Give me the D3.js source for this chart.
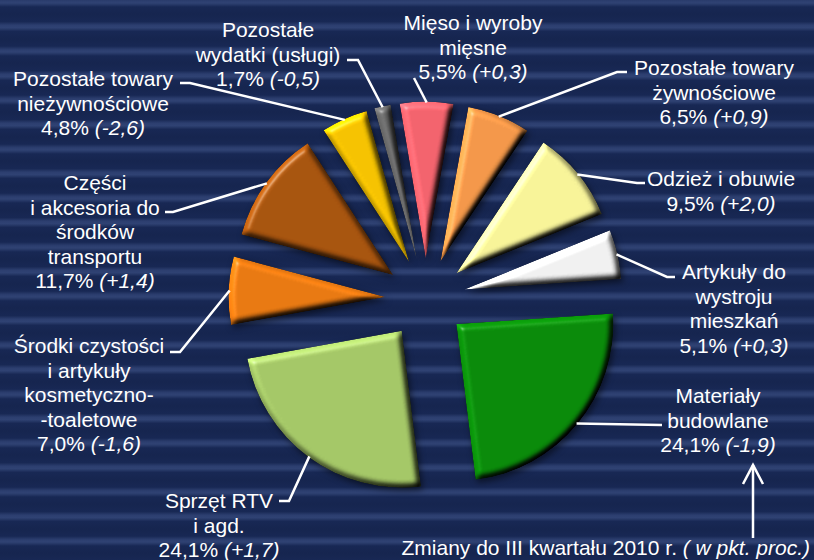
<!DOCTYPE html>
<html>
<head>
<meta charset="utf-8">
<script src="https://cdn.jsdelivr.net/npm/d3@7"></script>
<style>
  body { margin: 0; background: #172552; }
  svg { display: block; }
  text { font-family: "Liberation Sans", Arial, sans-serif; fill: #fff; }
</style>
</head>
<body>
<div id="app"></div>
<script>
// data: shares of retail sales (%), change vs Q3 2010 (pp)
let categories = ["Materiały budowlane", "Sprzęt RTV i agd.",
  "Środki czystości i artykuły kosmetyczno-toaletowe",
  "Części i akcesoria do środków transportu", "Pozostałe towary nieżywnościowe",
  "Pozostałe wydatki (usługi)", "Mięso i wyroby mięsne",
  "Pozostałe towary żywnościowe", "Odzież i obuwie", "Artykuły do wystroju mieszkań"]
let shares = [24.1, 24.1, 7.0, 11.7, 4.8, 1.7, 5.5, 6.5, 9.5, 5.1]
let changes = [-1.9, 1.7, -1.6, 1.4, -2.6, -0.5, 0.3, 0.9, 2.0, 0.3]
let labelLines = [
  ["Materiały", "budowlane"],
  ["Sprzęt RTV", "i agd."],
  ["Środki czystości", "i artykuły", "kosmetyczno-", "-toaletowe"],
  ["Części", "i akcesoria do", "środków", "transportu"],
  ["Pozostałe towary", "nieżywnościowe"],
  ["Pozostałe", "wydatki (usługi)"],
  ["Mięso i wyroby", "mięsne"],
  ["Pozostałe towary", "żywnościowe"],
  ["Odzież i obuwie"],
  ["Artykuły do", "wystroju", "mieszkań"]
]
let note = "Zmiany do III kwartału 2010 r. "
let noteUnit = "( w pkt. proc.)"

let colors = ["#0a8c0a", "#a6c968", "#ea7a12", "#a9550f", "#f7c400",
  "#6a6a6a", "#f4646e", "#f5994a", "#f9f59a", "#f2f2f2"]

// layout of labels: text centre x, first baseline y, leader elbow + end
let labelLayout = [
  {x: 718, y: 403, elbow: [662, 425], end: [662, 425]},
  {x: 219, y: 508, elbow: [289, 501], end: [279, 501]},
  {x: 89, y: 353, elbow: [180, 352], end: [170, 352]},
  {x: 95, y: 190, elbow: [173, 212], end: [165, 212]},
  {x: 93, y: 86, elbow: [190, 83], end: [180, 83]},
  {x: 268, y: 37, elbow: [358, 60], end: [347, 60]},
  {x: 473, y: 30, elbow: [414, 78], end: [414, 78]},
  {x: 714, y: 75, elbow: [617, 72], end: [627, 72]},
  {x: 721, y: 186, elbow: [637, 183], end: [645, 183]},
  {x: 734, y: 279, elbow: [667, 277], end: [675, 277]}
]

let width = 814, height = 560
let cx = 425.5, cy = 298.5
let radius = 157, explode = 40
let lineH = 24.5
let startAngle = 86.2 * Math.PI / 180

let svg = d3.select("#app").append("svg")
    .attr("width", width)
    .attr("height", height)

let defs = svg.append("defs")

// striped background
let grad = defs.append("linearGradient")
    .attr("id", "stripe").attr("x1", 0).attr("y1", 0).attr("x2", 0).attr("y2", 1)
;[[0, "#16254f"], [0.3, "#182854"], [0.45, "#2d3f70"], [0.55, "#2f4273"], [0.7, "#182854"], [1, "#16254f"]]
  .forEach(s => grad.append("stop").attr("offset", s[0]).attr("stop-color", s[1]))
let pat = defs.append("pattern")
    .attr("id", "bg").attr("patternUnits", "userSpaceOnUse")
    .attr("x", 0).attr("y", -10.25).attr("width", width).attr("height", lineH)
pat.append("rect").attr("width", width).attr("height", lineH).attr("fill", "url(#stripe)")

// bevel filter for slices
let f = defs.append("filter").attr("id", "bevel")
    .attr("color-interpolation-filters", "sRGB")
    .attr("x", "-20%").attr("y", "-20%").attr("width", "140%").attr("height", "140%")
f.append("feGaussianBlur").attr("in", "SourceAlpha").attr("stdDeviation", 3).attr("result", "blur")
let dl = f.append("feDiffuseLighting").attr("in", "blur").attr("surfaceScale", 5)
    .attr("diffuseConstant", 1).attr("lighting-color", "#fff").attr("result", "diff")
dl.append("feDistantLight").attr("azimuth", 225).attr("elevation", 50)
f.append("feComposite").attr("in", "SourceGraphic").attr("in2", "diff")
    .attr("operator", "arithmetic").attr("k1", 1.3).attr("k2", 0).attr("k3", 0).attr("k4", 0)
    .attr("result", "lit")
f.append("feComposite").attr("in", "lit").attr("in2", "SourceAlpha").attr("operator", "in").attr("result", "litIn")
let sl = f.append("feSpecularLighting").attr("in", "blur").attr("surfaceScale", 5)
    .attr("specularConstant", 0.4).attr("specularExponent", 40).attr("lighting-color", "#fff").attr("result", "spec")
sl.append("feDistantLight").attr("azimuth", 225).attr("elevation", 40)
f.append("feComposite").attr("in", "spec").attr("in2", "SourceAlpha").attr("operator", "in").attr("result", "specIn")
f.append("feOffset").attr("in", "blur").attr("dx", 2).attr("dy", 3).attr("result", "off")
f.append("feFlood").attr("flood-color", "#000").attr("flood-opacity", 0.5)
f.append("feComposite").attr("in2", "off").attr("operator", "in").attr("result", "shadow")
let mg = f.append("feMerge")
;["shadow", "litIn", "specIn"].forEach(n => mg.append("feMergeNode").attr("in", n))

svg.append("rect").attr("width", width).attr("height", height).attr("fill", "url(#bg)")

let color = d3.scaleOrdinal().domain(categories).range(colors)
let fmt = v => d3.format(".1f")(Math.abs(v)).replace(".", ",")

let pie = d3.pie().sort(null).value(d => d.share)
    .startAngle(startAngle).endAngle(startAngle + 2 * Math.PI)
let arc = d3.arc().innerRadius(0).outerRadius(radius)

let data = categories.map((c, i) => ({name: c, share: shares[i], change: changes[i], lines: labelLines[i], lay: labelLayout[i]}))
let arcs = pie(data)

// offset of a point at angle a (clockwise from north)
let dir = a => [Math.sin(a), -Math.cos(a)]

let chart = svg.append("g").attr("transform", "translate(" + cx + "," + cy + ")")

chart.selectAll(".slice")
  .data(arcs)
  .enter().append("path")
    .attr("class", "slice")
    .attr("transform", d => {
      let m = dir((d.startAngle + d.endAngle) / 2)
      return "translate(" + m[0] * explode + "," + m[1] * explode + ")"
    })
    .attr("d", arc)
    .attr("fill", d => color(d.data.name))
    .attr("filter", "url(#bevel)")

// leader lines
svg.append("g").selectAll("polyline")
  .data(arcs)
  .enter().append("polyline")
    .attr("fill", "none")
    .attr("stroke", "#fff")
    .attr("stroke-width", 2.5)
    .attr("points", d => {
      let mid = (d.startAngle + d.endAngle) / 2
      let m = dir(mid)
      let px = cx + m[0] * (explode + radius - 1), py = cy + m[1] * (explode + radius - 1)
      let l = d.data.lay
      return [[px, py], l.elbow, l.end].map(p => p.join(",")).join(" ")
    })

// labels
let labels = svg.append("g").selectAll("text")
  .data(arcs)
  .enter().append("text")
    .attr("text-anchor", "middle")
    .attr("font-size", 21)

labels.each(function(d) {
  let t = d3.select(this)
  let l = d.data.lay
  d.data.lines.forEach((s, k) => {
    t.append("tspan").attr("x", l.x).attr("y", l.y + k * lineH).text(s)
  })
  let last = t.append("tspan").attr("x", l.x).attr("y", l.y + d.data.lines.length * lineH)
  last.append("tspan").text(fmt(d.data.share) + "% ")
  last.append("tspan").attr("font-style", "italic")
    .text("(" + (d.data.change < 0 ? "-" : "+") + fmt(d.data.change) + ")")
})

// note with arrow
let nt = svg.append("text").attr("x", 810).attr("y", 555)
    .attr("text-anchor", "end").attr("font-size", 21)
nt.append("tspan").text(note)
nt.append("tspan").attr("font-style", "italic").text(noteUnit)

svg.append("line").attr("x1", 753).attr("y1", 538).attr("x2", 753).attr("y2", 465)
    .attr("stroke", "#fff").attr("stroke-width", 2.5)
svg.append("polyline").attr("points", "743,484 753,465 763,484")
    .attr("fill", "none").attr("stroke", "#fff").attr("stroke-width", 2.5)
</script>
</body>
</html>
